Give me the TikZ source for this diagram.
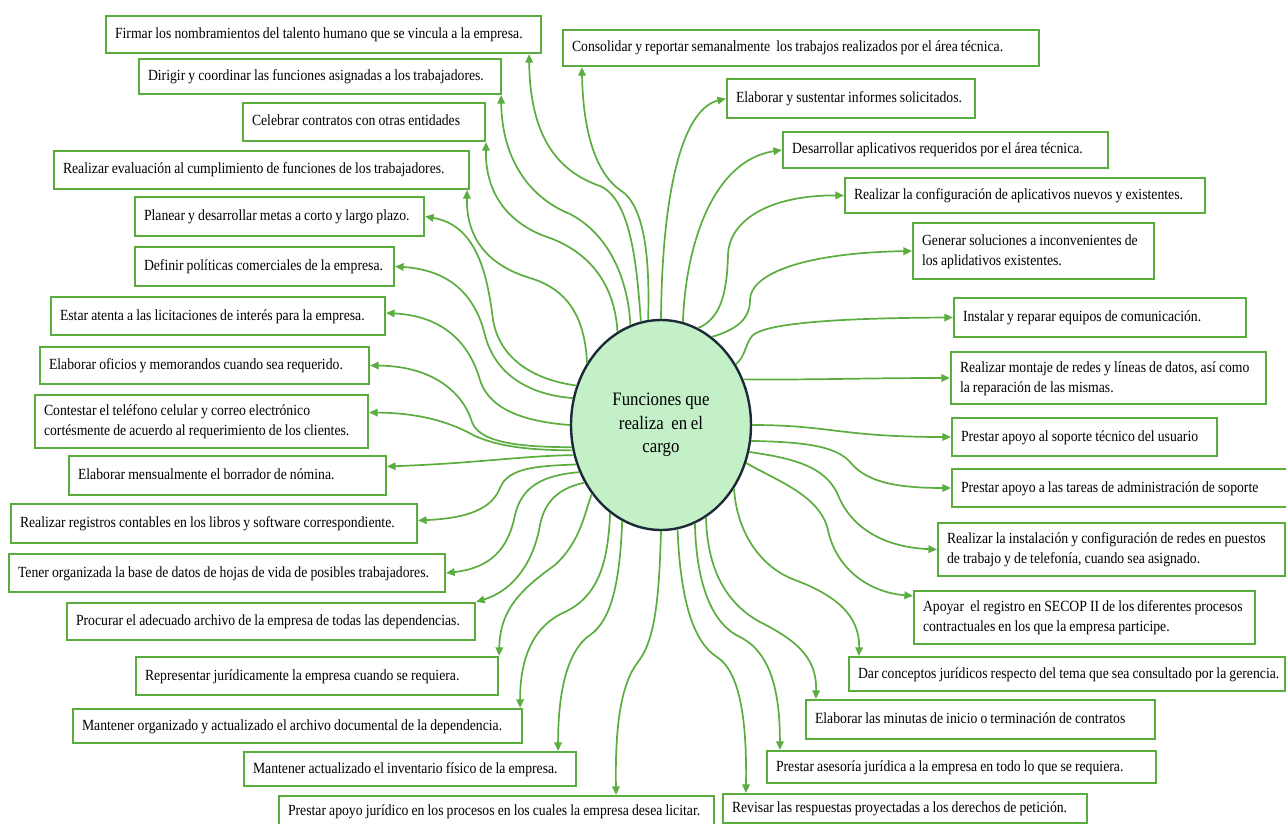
\documentclass[tikz,border=0pt]{standalone}
\usepackage{fontspec}
\setmainfont{Liberation Serif}[FakeStretch=0.885,WordSpace=0.9]
\usetikzlibrary{shapes.geometric,arrows.meta}

\definecolor{boxgreen}{HTML}{58AD3C}
\definecolor{linegreen}{HTML}{5BAD3F}
\definecolor{hubfill}{HTML}{C4F0C8}
\definecolor{hubedge}{HTML}{1B2A38}

\tikzset{
  fbox/.style={draw=boxgreen, line width=2.2pt, fill=white, inner xsep=9pt,
    inner ysep=0pt, text=black,
    font=\fontsize{15.5}{20}\selectfont},
  conn/.style={draw=linegreen, line width=1.7pt,
    -{Triangle[length=8.5pt,width=7.5pt]}},
  hub/.style={ellipse, draw=hubedge, line width=2.4pt, fill=hubfill,
    minimum width=180pt, minimum height=210pt, inner sep=0pt, align=center,
    font=\fontsize{19}{23.5}\selectfont}
}

% task box from its corners (x1,y1) to (x2,y2), y counted downwards;
% the lines are set flush left and never rewrapped
\newcommand\taskbox[6]{%
  \pgfmathsetmacro\fbW{#4-#2}\pgfmathsetmacro\fbH{#5-#3}%
  \pgfmathsetmacro\fbT{#4-#2-18}%
  \pgfmathsetmacro\fbX{(#2+#4)/2}\pgfmathsetmacro\fbY{(#3+#5)/2}%
  \node[fbox, minimum width=\fbW pt, minimum height=\fbH pt]
    (#1) at (\fbX,\fbY)
    {\makebox[\fbT pt][l]{\begin{tabular}{@{}l@{}}#6\end{tabular}}};}

\begin{document}
\begin{tikzpicture}[x=1pt, y=-1pt]
\useasboundingbox (0,0) rectangle (1286,824);
\clip (0,0) rectangle (1286,824);
\fill[white] (0,0) rectangle (1286,824);

% central ellipse
\node[hub] (ctr) at (661,425) {Funciones que\\realiza\ \ en el\\cargo};

% left column
\taskbox{b1}{106}{16}{541}{53}{Firmar los nombramientos del talento humano que se vincula a la empresa.}
\taskbox{b2}{139}{59}{501}{94}{Dirigir y coordinar las funciones asignadas a los trabajadores.}
\taskbox{b3}{243}{103}{485}{141}{Celebrar contratos con otras entidades}
\taskbox{b4}{54}{151}{469}{189}{Realizar evaluación al cumplimiento de funciones de los trabajadores.}
\taskbox{b5}{135}{197}{424}{236}{Planear y desarrollar metas a corto y largo plazo.}
\taskbox{b6}{135}{247}{394}{286}{Definir políticas comerciales de la empresa.}
\taskbox{b7}{51}{297}{385}{335}{Estar atenta a las licitaciones de interés para la empresa.}
\taskbox{b8}{40}{347}{369}{384}{Elaborar oficios y memorandos cuando sea requerido.}
\taskbox{b9}{35}{395}{368}{448}{Contestar el teléfono celular y correo electrónico\\cortésmente de acuerdo al requerimiento de los clientes.}
\taskbox{b10}{69}{456}{386}{495}{Elaborar mensualmente el borrador de nómina.}
\taskbox{b11}{11}{504}{417}{543}{Realizar registros contables en los libros y software correspondiente.}
\taskbox{b12}{9}{554}{445}{592}{Tener organizada la base de datos de hojas de vida de posibles trabajadores.}
\taskbox{b13}{67}{603}{475}{640}{Procurar el adecuado archivo de la empresa de todas las dependencias.}
\taskbox{b14}{136}{657}{498}{695}{Representar jurídicamente la empresa cuando se requiera.}
\taskbox{b15}{73}{709}{522}{743}{Mantener organizado y actualizado el archivo documental de la dependencia.}
\taskbox{b16}{244}{752}{576}{786}{Mantener actualizado el inventario físico de la empresa.}
\taskbox{b17}{279}{796}{714}{827}{Prestar apoyo jurídico en los procesos en los cuales la empresa desea licitar.}

% right column
\taskbox{b18}{563}{30}{1039}{66}{Consolidar y reportar semanalmente\ \ los trabajos realizados por el área técnica.}
\taskbox{b19}{727}{79}{975}{118}{Elaborar y sustentar informes solicitados.}
\taskbox{b20}{783}{132}{1108}{168}{Desarrollar aplicativos requeridos por el área técnica.}
\taskbox{b21}{845}{178}{1205}{213}{Realizar la configuración de aplicativos nuevos y existentes.}
\taskbox{b22}{913}{223}{1154}{279}{Generar soluciones a inconvenientes de\\los aplidativos existentes.}
\taskbox{b23}{954}{298}{1246}{337}{Instalar y reparar equipos de comunicación.}
\taskbox{b24}{951}{352}{1266}{404}{Realizar montaje de redes y líneas de datos, así como\\la reparación de las mismas.}
\taskbox{b25}{952}{418}{1217}{456}{Prestar apoyo al soporte técnico del usuario}
\taskbox{b26}{952}{469}{1295}{507}{Prestar apoyo a las tareas de administración de soporte}
\taskbox{b27}{938}{523}{1285}{576}{Realizar la instalación y configuración de redes en puestos\\de trabajo y de telefonía, cuando sea asignado.}
\taskbox{b28}{914}{591}{1255}{644}{Apoyar\ \ el registro en SECOP II de los diferentes procesos\\contractuales en los que la empresa participe.}
\taskbox{b29}{849}{657}{1285}{691}{Dar conceptos jurídicos respecto del tema que sea consultado por la gerencia.}
\taskbox{b30}{806}{700}{1155}{739}{Elaborar las minutas de inicio o terminación de contratos}
\taskbox{b31}{767}{751}{1156}{783}{Prestar asesoría jurídica a la empresa en todo lo que se requiera.}
\taskbox{b32}{723}{794}{1087}{823}{Revisar las respuestas proyectadas a los derechos de petición.}

% connectors to the left column
\draw[conn] (ctr.101) .. controls (637,270) and (632,200) .. (600,186) .. controls (560,172) and (530,140) .. ([xshift=-13pt]b1.south east);
\draw[conn] (ctr.107) .. controls (628,280) and (610,235) .. (570,214) .. controls (530,198) and (502,160) .. ([xshift=-1pt]b2.south east);
\draw[conn] (ctr.115) .. controls (615,290) and (595,255) .. (550,238) .. controls (510,225) and (485,195) .. (b3.south east);
\draw[conn] (ctr.140) .. controls (585,320) and (570,290) .. (530,278) .. controls (490,266) and (466,240) .. ([xshift=-3pt]b4.south east);
\draw[conn] (ctr.155) .. controls (535,380) and (500,360) .. (493,320) .. controls (487,270) and (475,225) .. (b5.east);
\draw[conn] (ctr.163) .. controls (530,395) and (495,375) .. (485,335) .. controls (475,295) and (450,270) .. (b6.east);
\draw[conn] (ctr.180) .. controls (530,422) and (490,412) .. (480,380) .. controls (470,345) and (445,316) .. ([yshift=3pt]b7.east);
\draw[conn] (ctr.194) .. controls (530,447) and (480,445) .. (472,422) .. controls (462,390) and (430,366) .. (b8.east);
\draw[conn] (ctr.196) .. controls (530,450) and (500,447) .. (475,436) .. controls (450,422) and (420,413) .. ([yshift=9pt]b9.east);
\draw[conn] (ctr.199) .. controls (520,456) and (480,463) .. ([yshift=9pt]b10.east);
\draw[conn] (ctr.205) .. controls (535,466) and (508,468) .. (500,488) .. controls (492,508) and (470,518) .. ([yshift=3pt]b11.east);
\draw[conn] (ctr.210) .. controls (545,475) and (522,485) .. (515,515) .. controls (508,550) and (490,568) .. (b12.east);
\draw[conn] (ctr.217) .. controls (560,488) and (545,500) .. (540,525) .. controls (534,560) and (515,590) .. (b13.north east);
\draw[conn] (ctr.225) .. controls (585,510) and (582,540) .. (555,565) .. controls (520,590) and (500,610) .. (b14.north east);
\draw[conn] (ctr.240) .. controls (608,560) and (600,595) .. (565,612) .. controls (535,625) and (520,655) .. ([xshift=-3pt]b15.north east);
\draw[conn] (ctr.248) .. controls (620,580) and (612,620) .. (590,635) .. controls (568,650) and (558,690) .. ([xshift=-19pt]b16.north east);
\draw[conn] (ctr.270) .. controls (659,600) and (655,640) .. (638,662) .. controls (620,685) and (615,730) .. ([xshift=-99pt]b17.north east);

% connectors to the right column
\draw[conn] (ctr.97) .. controls (650,260) and (645,205) .. (620,190) .. controls (595,172) and (583,130) .. ([xshift=20pt]b18.south west);
\draw[conn] (ctr.90) .. controls (662,200) and (680,110) .. (b19.west);
\draw[conn] (ctr.78) .. controls (686,240) and (715,160) .. (b20.west);
\draw[conn] (ctr.69) .. controls (722,318) and (727,290) .. (728,255) .. controls (729,220) and (770,195) .. (b21.west);
\draw[conn] (ctr.60) .. controls (735,330) and (750,320) .. (750,300) .. controls (750,275) and (800,253) .. (b22.west);
\draw[conn] (ctr.39) .. controls (745,357) and (745,345) .. (752,336) .. controls (765,322) and (850,318) .. (b23.west);
\draw[conn] (ctr.29) .. controls (820,380) and (860,378) .. (b24.west);
\draw[conn] (ctr.0) .. controls (830,425) and (840,437) .. (b25.west);
\draw[conn] (ctr.350) .. controls (800,442) and (835,445) .. (850,462) .. controls (865,480) and (890,488) .. (b26.west);
\draw[conn] (ctr.343) .. controls (790,458) and (825,465) .. (838,495) .. controls (850,525) and (880,547) .. (b27.west);
\draw[conn] (ctr.336) .. controls (775,480) and (820,495) .. (828,530) .. controls (835,565) and (865,592) .. ([yshift=-6pt]b28.north west);
\draw[conn] (ctr.319) .. controls (736,525) and (755,565) .. (795,580) .. controls (835,595) and (860,615) .. ([xshift=11pt]b29.north west);
\draw[conn] (ctr.296) .. controls (707,560) and (720,600) .. (760,622) .. controls (800,642) and (817,660) .. ([xshift=11pt]b30.north west);
\draw[conn] (ctr.289) .. controls (696,575) and (708,622) .. (740,637) .. controls (770,652) and (780,690) .. ([xshift=14pt]b31.north west);
\draw[conn] (ctr.279) .. controls (680,590) and (690,640) .. (717,657) .. controls (740,672) and (747,720) .. ([xshift=24pt]b32.north west);
\end{tikzpicture}
\end{document}
